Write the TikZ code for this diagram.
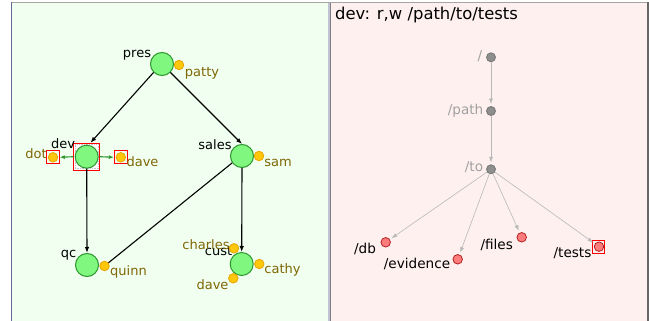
\documentclass[tikz,border=0pt]{standalone}
\usepackage{fontspec}
\setmainfont{DejaVu Sans}
\usetikzlibrary{arrows.meta}
\definecolor{grpfill}{HTML}{80F880}
\definecolor{grpline}{HTML}{2E962E}
\definecolor{usrfill}{HTML}{FFC70A}
\definecolor{usrline}{HTML}{E8A400}
\definecolor{usrtext}{HTML}{7F6606}
\definecolor{dirfill}{HTML}{8E8E8E}
\definecolor{dirline}{HTML}{747474}
\definecolor{dirtext}{HTML}{A0A0A0}
\definecolor{resfill}{HTML}{FF7C7C}
\definecolor{resline}{HTML}{B02020}
\definecolor{bggreen}{HTML}{F0FFF0}
\definecolor{bgpink}{HTML}{FFF0F0}
\tikzset{
  grp/.style={circle,draw=grpline,fill=grpfill,line width=1pt,minimum size=23pt,inner sep=0pt},
  usr/.style={circle,draw=usrline,fill=usrfill,line width=.8pt,minimum size=9.5pt,inner sep=0pt},
  dir/.style={circle,draw=dirline,fill=dirfill,line width=.8pt,minimum size=9pt,inner sep=0pt},
  res/.style={circle,draw=resline,fill=resfill,line width=.8pt,minimum size=9.5pt,inner sep=0pt},
  selbox/.style={draw=red,line width=1pt,inner sep=0pt},
  glbl/.style={anchor=base,inner sep=0pt,font=\fontsize{13}{15}\selectfont},
  ulbl/.style={glbl,text=usrtext},
  rlbl/.style={anchor=base,inner sep=0pt,font=\fontsize{13.6}{16}\selectfont},
  dlbl/.style={rlbl,text=dirtext},
  member/.style={line width=1.1pt,-{Latex[length=6pt,width=4.5pt]}},
  grant/.style={line width=1.1pt,draw=grpline,-{Latex[length=5pt,width=4pt]}},
  path/.style={line width=.6pt,draw=black!28,-{Latex[length=5.5pt,width=4pt]},shorten >=2pt}
}
\begin{document}
\begin{tikzpicture}[x=1pt,y=-1pt]
  \useasboundingbox (0,0) rectangle (649,321);
  %\draw[help lines,step=50] (0,0) grid (649,321);
  % panels
  \fill[bggreen] (11.5,2.5) rectangle (327.5,321);
  \fill[bgpink] (331,2.5) rectangle (647,321);
  \fill[blue!20!gray!40] (327.5,2.5) rectangle (330,321);
  \draw[gray,line width=1pt] (330.5,2.5) -- (330.5,321);
  \draw[gray!80!blue,line width=1pt] (11.5,2.5) -- (11.5,321);
  \draw[gray!70,line width=1pt] (11.5,2.5) -- (647,2.5);
  \fill[gray!80!black] (647,2) rectangle (649,321);

  % groups
  \node[selbox,fill=white,minimum width=25.5pt,minimum height=26.7pt] (devsel) at (86.7,156.7) {};
  \draw[gray!45,densely dotted,line width=.7pt] (75.2,144.6) rectangle (98.2,168.8);
  \node[grp] (pres) at (162,64) {};
  \node[grp] (dev) at (86.7,156.7) {};
  \node[grp] (sales) at (242,156) {};
  \node[grp] (qc) at (87,265) {};
  \node[grp] (cust) at (241.7,264) {};
  \node[glbl] (pres-l) at (137,57.5) {pres};
  \node[glbl] (dev-l) at (63,149) {dev};
  \node[glbl] (sales-l) at (215,149.5) {sales};
  \node[glbl] (qc-l) at (68.5,257) {qc};

  % members
  \draw[member] (pres.-135) -- (devsel.75);
  \draw[member] (pres.-45) -- (sales.north);
  \draw[member] (dev.south) -- (qc.north);
  \draw[member] (sales.south) -- (cust.north);
  \draw[line width=1.1pt] (sales.-145) -- (104.5,266);
  \node[glbl] (cust-l) at (218.5,255) {cust};

  % users
  \node[selbox,minimum width=12.6pt,minimum height=13.3pt] (dotsel) at (53,157.3) {};
  \node[selbox,minimum width=13pt,minimum height=13.3pt] (davesel) at (120.8,157.3) {};
  \node[usr] (patty) at (179,65) {};
  \node[usr] (dot) at (53,157.3) {};
  \node[usr] (dave1) at (120.8,157.3) {};
  \node[usr] (sam) at (259,156) {};
  \node[usr] (quinn) at (104.5,266) {};
  \node[usr] (charles) at (234,248.3) {};
  \node[usr] (cathy) at (259.3,264) {};
  \node[usr] (dave2) at (233.3,278.3) {};
  \draw[grant] (devsel.west) -- (dotsel.east);
  \draw[grant] (devsel.east) -- (davesel.west);
  \node[ulbl] (patty-l) at (202,76.5) {patty};
  \node[ulbl] (dot-l) at (36,159) {dot};
  \node[ulbl] (dave1-l) at (142.5,166.7) {dave};
  \node[ulbl] (sam-l) at (278,167) {sam};
  \node[ulbl] (quinn-l) at (128.5,275.7) {quinn};
  \node[ulbl] (charles-l) at (206,249) {charles};
  \node[ulbl] (cathy-l) at (282.5,273) {cathy};
  \node[ulbl] (dave2-l) at (212.5,289) {dave};

  % resources
  \node[anchor=base west,inner sep=0pt,font=\fontsize{16.4}{19}\selectfont] (title) at (335,19.5) {dev: r,w /path/to/tests};
  \node[dir] (root) at (491,57.3) {};
  \node[dir] (pth) at (491,111) {};
  \node[dir] (to) at (491,169.3) {};
  \node[res] (db) at (385.7,242.3) {};
  \node[res] (evid) at (457.7,259.3) {};
  \node[res] (files) at (521.7,237.3) {};
  \node[res] (tests) at (599,246.7) {};
  \node[selbox,minimum width=12.3pt,minimum height=12.6pt] (testsel) at (598.8,247) {};
  \draw[path] (root) -- (pth);
  \draw[path] (pth) -- (to);
  \foreach \r in {db,evid,files,tests}
    \draw[path] (to) -- (\r);
  \node[dlbl] (root-l) at (480,60.7) {/};
  \node[dlbl] (pth-l) at (465.6,114) {/path};
  \node[dlbl] (to-l) at (474,171.7) {/to};
  \node[rlbl] (db-l) at (365,253) {/db};
  \node[rlbl] (evid-l) at (417,268.3) {/evidence};
  \node[rlbl] (files-l) at (496.7,249) {/files};
  \node[rlbl] (tests-l) at (572.5,257.3) {/tests};
\end{tikzpicture}
\end{document}
